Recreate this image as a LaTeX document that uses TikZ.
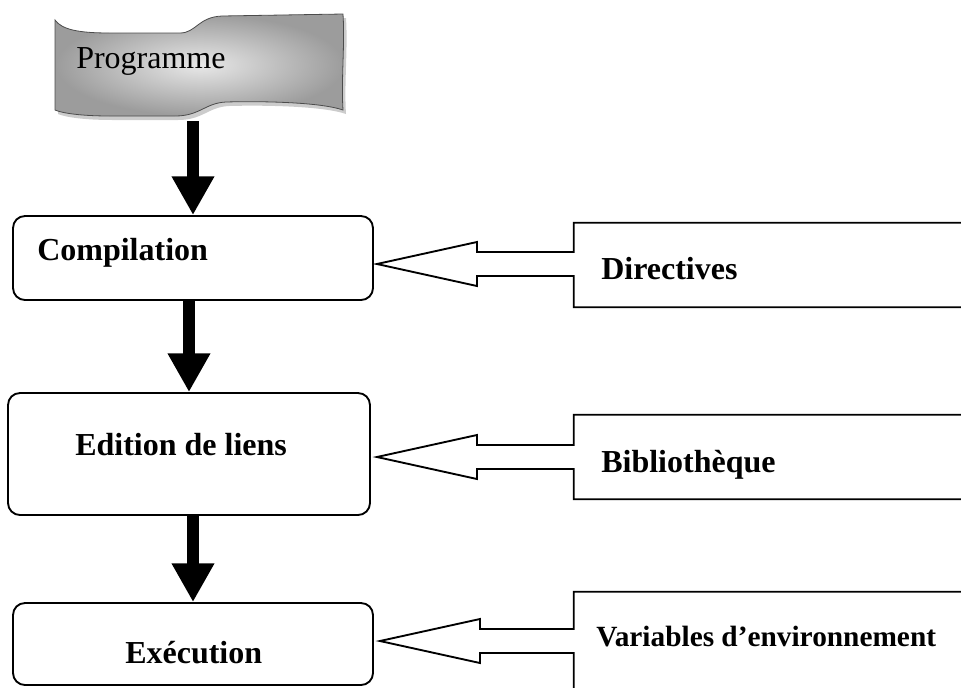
\documentclass[tikz,border=0pt]{standalone}
\usepackage{fontspec}
\setmainfont{Liberation Serif}
\usetikzlibrary{arrows.meta,calc,fit}

% Outline of the wavy "Programme" banner (pixel-like units)
\newcommand{\bannerpath}{%
  (55,20) .. controls (62,30) and (80,33) .. (110,33) -- (180,33)
  .. controls (196,33) and (198,17) .. (222,16) -- (343,14)
  .. controls (345,45) and (341,80) .. (343,110)
  .. controls (320,102) and (260,101) .. (226,102)
  .. controls (205,103) and (200,116) .. (175,116) -- (110,116)
  .. controls (80,116) and (62,113) .. (55,110) -- cycle}

% Open box on the right whose left side turns into a hollow arrow
% #1 = box node, #2 = arrow tip, #3 = closing segment (or empty)
\newcommand{\sidearrow}[3]{%
  \draw[hollow] (#1.north east) -- (#1.north west)
    -- ($(#1.west |- #2)+(0,-12)$) -- ($(#2)+(100,-12)$)
    -- ($(#2)+(100,-22)$) -- (#2) -- ($(#2)+(100,22)$)
    -- ($(#2)+(100,12)$) -- ($(#1.west |- #2)+(0,12)$)
    -- (#1.south west) #3;}

\begin{document}
\begin{tikzpicture}[x=0.75pt,y=-0.75pt,
  procbox/.style={draw, line width=1.4pt, rounded corners=9pt, inner sep=0pt},
  area/.style={inner sep=0pt},
  hollow/.style={draw, line width=1.4pt, line join=miter},
  flowarrow/.style={line width=9pt, -{Triangle[width=30pt,length=29pt]}},
  lbl/.style={anchor=base west, inner sep=0pt,
    font=\fontsize{24}{28}\selectfont\bfseries},
]
\useasboundingbox (0,0) rectangle (961,687);

% Programme banner with its soft shadow
\fill[gray!40, shift={(3,4)}] \bannerpath;
\shade[inner color=gray!18, outer color=gray!78, draw=gray!60!black, line width=0.6pt] \bannerpath;
\node[area, fit={(55,13) (343,121)}] (prog) {};
\node[anchor=base west, inner sep=0pt, font=\fontsize{24}{28}\selectfont] (progtext) at (76,68) {Programme};

% Processing steps
\node[procbox, fit={(13,216) (373,300)}] (comp) {};
\node[procbox, fit={(8,393) (370,515)}] (edit) {};
\node[procbox, fit={(13,603) (373,685)}] (exec) {};
\node[lbl] (comptext) at (37,260) {Compilation};
\node[lbl] (edittext) at (75,455) {Edition de liens};
\node[lbl] (exectext) at (125,663) {Exécution};

% Main flow
\draw[flowarrow] (prog.south -| comp.north) -- (comp.north);
\draw[flowarrow] (comp.south -| edit.north) -- (edit.north);
\draw[flowarrow] (edit.south -| exec.north) -- (exec.north);

% Inputs on the right
\node[area, fit={(574,223) (961,307)}] (dirbox) {};
\node[area, fit={(574,415) (961,499)}] (bibbox) {};
\node[area, fit={(574,592) (961,690)}] (varbox) {};
\coordinate (dirtip) at ($(comp.east)+(3,6)$);
\coordinate (bibtip) at ($(edit.east)+(6,3)$);
\coordinate (vartip) at ($(exec.east)+(6,-3)$);
\sidearrow{dirbox}{dirtip}{-- (dirbox.south east)}
\sidearrow{bibbox}{bibtip}{-- (bibbox.south east)}
\sidearrow{varbox}{vartip}{}
\node[lbl] (dirtext) at (601,279) {Directives};
\node[lbl] (bibtext) at (601,472) {Bibliothèque};
\node[lbl, font=\fontsize{22}{26}\selectfont\bfseries] (vartext) at (596,646) {Variables d’environnement};
\end{tikzpicture}
\end{document}
